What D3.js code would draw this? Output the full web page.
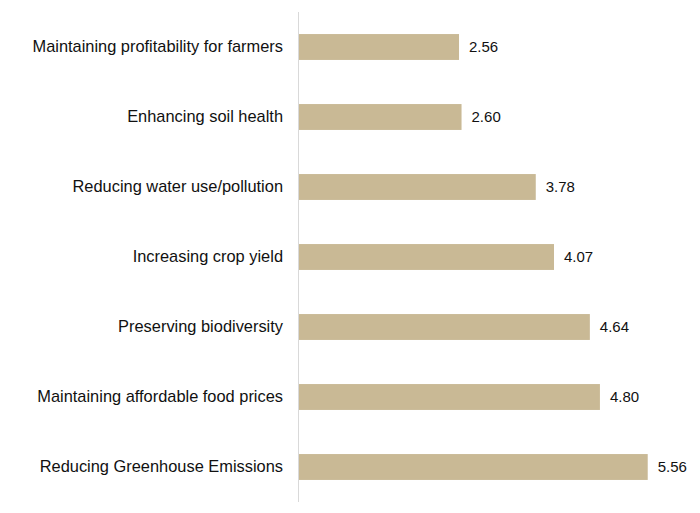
<!DOCTYPE html>
<html>
<head>
<meta charset="utf-8">
<script src="https://cdn.jsdelivr.net/npm/d3@7"></script>
<style>
  body { margin: 0; background: #fff; }
  svg { display: block; }
</style>
</head>
<body>
<div id="chart"></div>
<script>
// chart data
var categories = [
	"Maintaining profitability for farmers",
	"Enhancing soil health",
	"Reducing water use/pollution",
	"Increasing crop yield",
	"Preserving biodiversity",
	"Maintaining affordable food prices",
	"Reducing Greenhouse Emissions"
];
var values = [2.56, 2.60, 3.78, 4.07, 4.64, 4.80, 5.56];

// layout (note: "top" is taken by window.top, so use plotTop)
var w = 700,
	h = 513,
	plotLeft = 298,
	plotTop = 12,
	plotBottom = 502,
	barColor = "#c9b995";

var svg = d3.select("#chart").append("svg")
	.attr("width", w)
	.attr("height", h);

var x = d3.scaleLinear()
	.domain([0, 6])
	.range([plotLeft, plotLeft + 6 * 62.9]);

var y = d3.scaleBand()
	.domain(categories)
	.range([plotTop, plotBottom])
	.paddingInner(0.63)
	.paddingOuter(0.315);

// bars
svg.selectAll(".bar")
	.data(values)
	.enter()
	.append("rect")
	.attr("class", "bar")
	.attr("x", x(0))
	.attr("y", function(d, i) { return y(categories[i]); })
	.attr("width", function(d) { return x(d) - x(0); })
	.attr("height", y.bandwidth())
	.attr("fill", barColor);

// value labels
svg.selectAll(".val")
	.data(values)
	.enter()
	.append("text")
	.attr("class", "val")
	.attr("x", function(d) { return x(d) + 10; })
	.attr("y", function(d, i) { return y(categories[i]) + y.bandwidth() / 2; })
	.attr("dy", "0.35em")
	.style("font-family", "'Liberation Sans', Arial, sans-serif")
	.style("font-size", "15px")
	.attr("fill", "#111")
	.text(function(d) { return d3.format(".2f")(d); });

// category axis
var yAxis = d3.axisLeft(y).tickSize(0).tickPadding(15);
var g = svg.append("g")
	.attr("transform", "translate(" + plotLeft + ",0)")
	.call(yAxis);

g.select(".domain")
	.attr("stroke", "#d9d9d9")
	.attr("stroke-width", 1)
	.attr("d", "M0.5," + plotTop + "V" + plotBottom);

g.selectAll(".tick text")
	.style("font-family", "'Liberation Sans', Arial, sans-serif")
	.style("font-size", "16.4px")
	.attr("fill", "#111");
</script>
</body>
</html>
